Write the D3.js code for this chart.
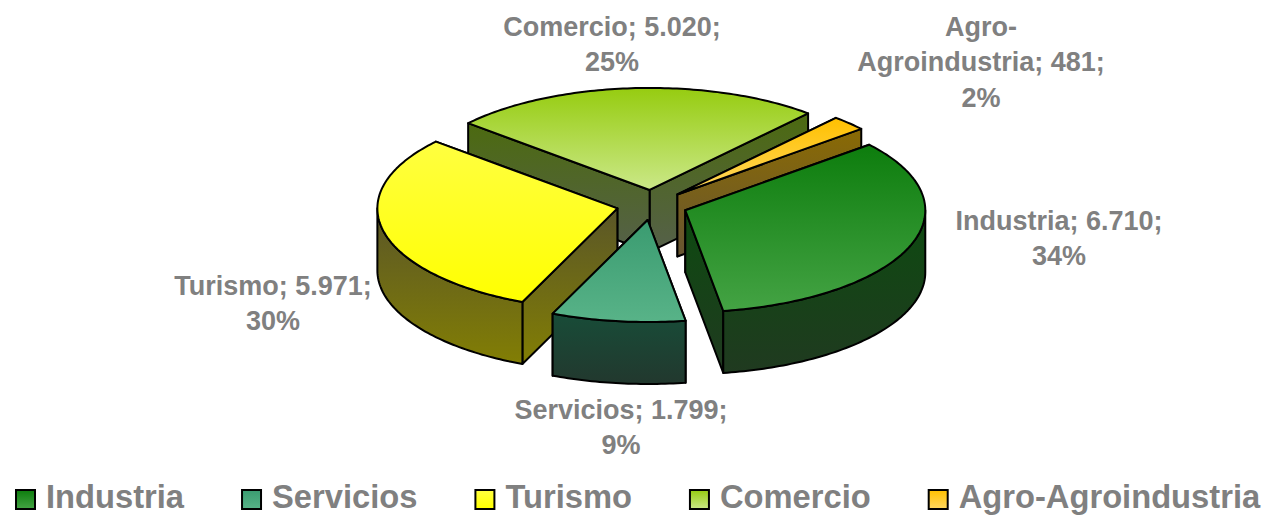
<!DOCTYPE html>
<html>
<head>
<meta charset="utf-8">
<script src="https://cdnjs.cloudflare.com/ajax/libs/d3/7.8.5/d3.min.js"></script>
<style>
  html, body { margin: 0; padding: 0; background: #fff; }
  text { font-family: "Liberation Sans", Arial, sans-serif; font-weight: bold; fill: #808080; }
</style>
</head>
<body>
<svg id="chart" width="1265" height="515"></svg>
<script>
/*
 * Data
 *****************************/
const categories = ["Industria", "Servicios", "Turismo", "Comercio", "Agro-Agroindustria"];
const values = [6710, 1799, 5971, 5020, 481];
const percents = ["34%", "9%", "30%", "25%", "2%"];

/*
 * Parameters
 *****************************/
const width = 1265, height = 515;
const cx = 652, cy = 205, rx = 240, ry = 102, depth = 62, explode = 0.148;
const startDeg = 50;
const rad = Math.PI / 180;

// top face gradient, wall gradient (top, bottom)
const topColors = [["#0d7d0d", "#44a344"], ["#3a9b70", "#58b388"], ["#ffff40", "#ffff00"], ["#96cc10", "#cbe888"], ["#ffc000", "#ffd860"]];
const wallColors = [["#0d4a10", "#203a20"], ["#184c38", "#22382e"], ["#5a5628", "#827e04"], ["#4c6a10", "#55604a"], ["#8a6a04", "#665532"]];

// multi line labels: [center x, first line center y]
const labelPos = [[1059, 220], [621, 409], [273, 285], [612, 26], [981, 26]];
const formatValue = d3.format(",");
const labelLines = categories.map((c, i) => {
  const v = formatValue(values[i]).replace(",", ".");
  if (i === 4) return ["Agro-", "Agroindustria; " + v + ";", percents[i]];
  return [c + "; " + v + ";", percents[i]];
});

const svg = d3.select("#chart");
const defs = svg.append("defs");

function addGradient(id, stops) {
  const g = defs.append("linearGradient").attr("id", id)
    .attr("x1", 0).attr("y1", 0).attr("x2", 0).attr("y2", 1);
  g.append("stop").attr("offset", "0%").attr("stop-color", stops[0]);
  g.append("stop").attr("offset", "100%").attr("stop-color", stops[1]);
}
categories.forEach((c, i) => {
  addGradient("top" + i, topColors[i]);
  addGradient("wall" + i, wallColors[i]);
});

const pie = d3.pie().sort(null)
  .startAngle(startDeg * rad)
  .endAngle((startDeg + 360) * rad);
const arcs = pie(values);

// unit circle -> screen, angle clockwise from north
const xScale = d3.scaleLinear().domain([-1, 1]).range([-rx, rx]);
const yScale = d3.scaleLinear().domain([-1, 1]).range([-ry, ry]);

function apex(d) {
  const mid = (d.startAngle + d.endAngle) / 2;
  return [cx + xScale(explode * Math.sin(mid)), cy - yScale(explode * Math.cos(mid))];
}
function rim(d, a) {
  const p = apex(d);
  return [p[0] + xScale(Math.sin(a)), p[1] - yScale(Math.cos(a))];
}
function down(p) { return [p[0], p[1] + depth]; }
function rimPoints(d, a0, a1) {
  const n = Math.max(2, Math.ceil((a1 - a0) / rad));
  return d3.range(n + 1).map(k => rim(d, a0 + (a1 - a0) * k / n));
}

const line = d3.line();

// back to front
const drawOrder = [3, 4, 2, 0, 1];
const slices = svg.append("g");

drawOrder.forEach(i => {
  const d = arcs[i];
  const g = slices.append("g");
  const p = apex(d);
  const a = rim(d, d.startAngle), b = rim(d, d.endAngle);

  // radial walls, the one further back first
  [a, b].sort((m, n) => m[1] - n[1]).forEach(e => {
    g.append("path")
      .attr("d", line([p, e, down(e), down(p)]) + "Z")
      .attr("fill", `url(#wall${i})`)
      .attr("stroke", "#000").attr("stroke-width", 2).attr("stroke-linejoin", "round");
  });

  // outer wall, only the front half of the rim
  for (const turn of [0, 360]) {
    const a0 = Math.max(d.startAngle, (90 + turn) * rad);
    const a1 = Math.min(d.endAngle, (270 + turn) * rad);
    if (a1 > a0) {
      const upper = rimPoints(d, a0, a1);
      const lower = upper.map(down).reverse();
      g.append("path")
        .attr("d", line(upper.concat(lower)) + "Z")
        .attr("fill", `url(#wall${i})`)
        .attr("stroke", "#000").attr("stroke-width", 2).attr("stroke-linejoin", "round");
    }
  }

  // top face
  g.append("path")
    .attr("d", line([p].concat(rimPoints(d, d.startAngle, d.endAngle))) + "Z")
    .attr("fill", `url(#top${i})`)
    .attr("stroke", "#000").attr("stroke-width", 2).attr("stroke-linejoin", "round");
});

// data labels
const labels = svg.append("g").selectAll("text")
  .data(labelLines)
  .enter()
  .append("text")
  .attr("text-anchor", "middle")
  .style("font-size", "27px");

labels.each(function (lines, i) {
  d3.select(this).selectAll("tspan")
    .data(lines)
    .enter()
    .append("tspan")
    .attr("x", labelPos[i][0])
    .attr("y", (l, k) => labelPos[i][1] + 35.5 * k + 9.5)
    .text(l => l);
});

// legend
let legendX = 16;
const legend = svg.append("g");
categories.forEach((c, i) => {
  legend.append("rect")
    .attr("x", legendX).attr("y", 490)
    .attr("width", 19).attr("height", 19)
    .attr("fill", `url(#top${i})`)
    .attr("stroke", "#000").attr("stroke-width", 2);
  const t = legend.append("text")
    .attr("x", legendX + 30).attr("y", 508)
    .style("font-size", "32.7px")
    .text(c);
  legendX += 30 + t.node().getComputedTextLength() + 58;
});
</script>
</body>
</html>
